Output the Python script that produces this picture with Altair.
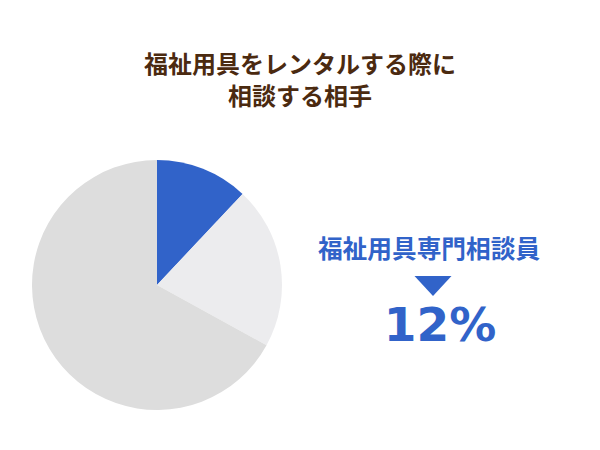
import altair as alt
import pandas as pd

categories = ["福祉用具専門相談員", "その他A", "その他B"]
shares = [12, 21, 67]
colors = ["#3163c9", "#ececee", "#dddddd"]
title_lines = ["福祉用具をレンタルする際に", "相談する相手"]
highlight_label = "福祉用具専門相談員"
highlight_value = "12%"

W, H = 584, 434
CX, CY, R = 149, 277, 125

df = pd.DataFrame({"cat": categories, "share": shares, "order": list(range(len(categories)))})

pie = alt.Chart(df).mark_arc(outerRadius=R, strokeWidth=0).encode(
    theta=alt.Theta("share:Q", stack=True),
    order=alt.Order("order:Q"),
    color=alt.Color("cat:N", scale=alt.Scale(domain=categories, range=colors), legend=None),
    x=alt.value(CX), y=alt.value(CY),
)

font = "Noto Sans CJK JP"
brown = "#4b2a10"
blue = "#3163c9"

t1 = alt.Chart(pd.DataFrame({"t": [title_lines[0]]})).mark_text(
    font=font, fontSize=24, fontWeight="bold", color=brown, baseline="middle", align="center"
).encode(text="t:N", x=alt.value(292), y=alt.value(58))
t2 = alt.Chart(pd.DataFrame({"t": [title_lines[1]]})).mark_text(
    font=font, fontSize=24, fontWeight="bold", color=brown, baseline="middle", align="center"
).encode(text="t:N", x=alt.value(292), y=alt.value(90))

lab = alt.Chart(pd.DataFrame({"t": [highlight_label]})).mark_text(
    font=font, fontSize=24.7, fontWeight="bold", color=blue, baseline="middle", align="center"
).encode(text="t:N", x=alt.value(421), y=alt.value(243))

tri = alt.Chart(pd.DataFrame({"t": [highlight_label]})).mark_point(
    shape="M-1,-0.54L1,-0.54L0,0.54Z", filled=True, color=blue, opacity=1, size=1369, strokeWidth=0
).encode(x=alt.value(425), y=alt.value(278))

val = alt.Chart(pd.DataFrame({"t": [highlight_value]})).mark_text(
    font="DejaVu Sans", fontSize=47, fontWeight="bold", color=blue, baseline="alphabetic", align="center"
).encode(text="t:N", x=alt.value(432), y=alt.value(333))

chart = alt.layer(pie, t1, t2, lab, tri, val).properties(
    width=W, height=H, padding=0, autosize=alt.AutoSizeParams(type="none")
).configure_view(stroke="transparent", strokeWidth=0, fill="white")

chart.save("out.html", embed_options={"renderer": "svg", "actions": False})
